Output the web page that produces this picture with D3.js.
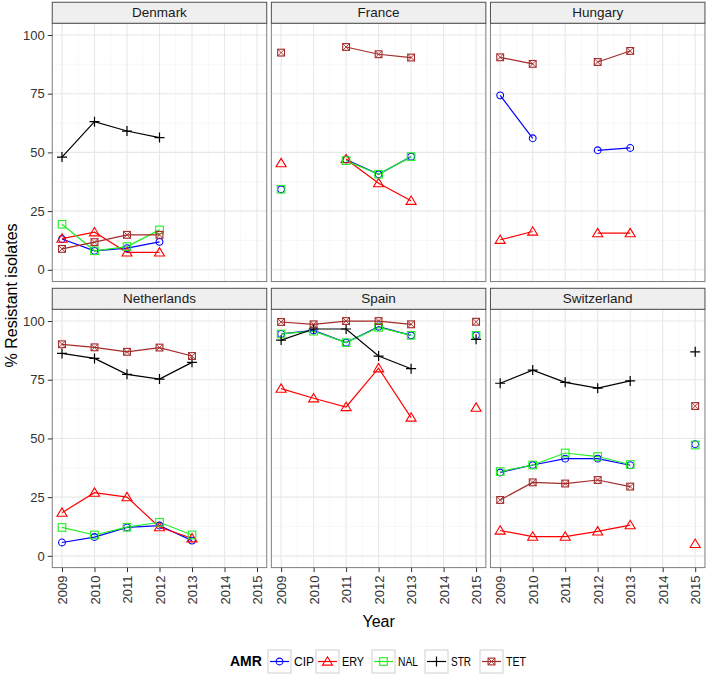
<!DOCTYPE html>
<html>
<head>
<meta charset="utf-8">
<script src="https://cdn.jsdelivr.net/npm/d3@7"></script>
<style>
  html, body { margin: 0; padding: 0; background: #fff; }
  svg { display: block; font-family: "Liberation Sans", Arial, Helvetica, sans-serif; }
</style>
</head>
<body>
<svg id="chart" width="709" height="678"></svg>
<script>
// ---------------- DATA ----------------
const years = [2009, 2010, 2011, 2012, 2013, 2014, 2015];
const yTicks = [0, 25, 50, 75, 100];
const countries = ["Denmark", "France", "Hungary", "Netherlands", "Spain", "Switzerland"];
const amrs = ["CIP", "ERY", "NAL", "STR", "TET"];
const amrColors = ["#0000FF", "#FF0000", "#22EE22", "#000000", "#A52A2A"];

// values per year 2009..2015 (null = missing)
const denmarkCIP = [13.1, 8.1, 9.2, 11.9, null, null, null];
const denmarkERY = [13.3, 16.0, 7.4, 7.4, null, null, null];
const denmarkNAL = [19.4, 8.1, 9.9, 17.0, null, null, null];
const denmarkSTR = [48.0, 63.1, 59.1, 56.3, null, null, null];
const denmarkTET = [8.9, 11.8, 14.9, 14.9, null, null, null];

const franceCIP = [34.3, null, 47.0, 40.7, 48.2, null, null];
const franceERY = [45.4, null, 47.1, 36.9, 29.4, null, null];
const franceNAL = [34.3, null, 46.5, 40.7, 48.2, null, null];
const franceSTR = [null, null, null, null, null, null, null];
const franceTET = [92.5, null, 94.9, 91.8, 90.4, null, null];

const hungaryCIP = [74.3, 56.0, null, 50.9, 51.9, null, null];
const hungaryERY = [12.8, 16.3, null, 15.6, 15.6, null, null];
const hungaryNAL = [null, null, null, null, null, null, null];
const hungarySTR = [null, null, null, null, null, null, null];
const hungaryTET = [90.5, 87.7, null, 88.5, 93.2, null, null];

const netherlandsCIP = [5.7, 8.0, 12.1, 12.9, 6.5, null, null];
const netherlandsERY = [18.4, 26.9, 25.0, 12.2, 7.5, null, null];
const netherlandsNAL = [12.1, 8.9, 12.2, 14.3, 8.9, null, null];
const netherlandsSTR = [86.2, 84.1, 77.3, 75.3, 82.4, null, null];
const netherlandsTET = [90.1, 88.8, 86.9, 88.7, 85.1, null, null];

const spainCIP = [94.5, 96.0, 90.8, 97.6, 93.9, null, 93.9];
const spainERY = [71.2, 67.1, 63.4, 79.9, 58.9, null, 63.1];
const spainNAL = [94.5, 95.7, 90.8, 97.3, 93.9, null, 93.9];
const spainSTR = [91.9, 96.6, 96.6, 85.1, 79.7, null, 92.2];
const spainTET = [99.6, 98.6, 100.0, 100.0, 98.6, null, 99.7];

const switzerlandCIP = [35.5, 38.7, 41.4, 41.4, 38.6, null, 47.5];
const switzerlandERY = [10.8, 8.2, 8.2, 10.4, 13.1, null, 5.1];
const switzerlandNAL = [35.9, 38.7, 43.8, 42.3, 38.9, null, 47.2];
const switzerlandSTR = [73.5, 79.1, 73.9, 71.4, 74.5, null, 86.9];
const switzerlandTET = [23.8, 31.3, 30.8, 32.3, 29.5, null, 63.8];

const table = {
  Denmark: [denmarkCIP, denmarkERY, denmarkNAL, denmarkSTR, denmarkTET],
  France: [franceCIP, franceERY, franceNAL, franceSTR, franceTET],
  Hungary: [hungaryCIP, hungaryERY, hungaryNAL, hungarySTR, hungaryTET],
  Netherlands: [netherlandsCIP, netherlandsERY, netherlandsNAL, netherlandsSTR, netherlandsTET],
  Spain: [spainCIP, spainERY, spainNAL, spainSTR, spainTET],
  Switzerland: [switzerlandCIP, switzerlandERY, switzerlandNAL, switzerlandSTR, switzerlandTET]
};

// ---------------- LAYOUT ----------------
const svg = d3.select("#chart");
const panelLeft = 52.25, panelW = 214.5, gapX = 4.6;
const panelTops = [23.25, 309.3];
const panelH = 258.3;
const stripH = 21;

const x = d3.scaleLinear().domain([2008.7, 2015.3]).range([0, panelW]);
const y = d3.scaleLinear().domain([-5, 105]).range([panelH, 0]);

const gridMajor = "#E8E8E8", gridMinor = "#F3F3F3";

function marker(g, shape, color) {
  const sw = 1.1;
  if (shape === "CIP") {
    g.append("circle").attr("r", 3.4).attr("fill", "none").attr("stroke", color).attr("stroke-width", sw);
  } else if (shape === "ERY") {
    const s = 4.8;
    g.append("path").attr("d", `M0,${-s} L${s*1.05},${s*0.75} L${-s*1.05},${s*0.75}Z`)
      .attr("fill", "none").attr("stroke", color).attr("stroke-width", sw);
  } else if (shape === "NAL") {
    g.append("rect").attr("x", -3.8).attr("y", -3.8).attr("width", 7.6).attr("height", 7.6)
      .attr("fill", "none").attr("stroke", color).attr("stroke-width", sw);
  } else if (shape === "STR") {
    g.append("path").attr("d", "M-5,0H5M0,-5V5").attr("stroke", color).attr("stroke-width", 1.2);
  } else if (shape === "TET") {
    g.append("rect").attr("x", -3.4).attr("y", -3.4).attr("width", 6.8).attr("height", 6.8)
      .attr("fill", "none").attr("stroke", color).attr("stroke-width", sw);
    g.append("path").attr("d", "M-3.4,-3.4L3.4,3.4M-3.4,3.4L3.4,-3.4")
      .attr("stroke", color).attr("stroke-width", 0.9);
  }
}

countries.forEach((c, i) => {
  const col = i % 3, row = Math.floor(i / 3);
  const px = panelLeft + col * (panelW + gapX);
  const py = panelTops[row];
  const g = svg.append("g").attr("transform", `translate(${px},${py})`);

  // strip
  svg.append("rect").attr("x", px).attr("y", py - stripH).attr("width", panelW).attr("height", stripH)
    .attr("fill", "#EFEFEF").attr("stroke", "#4D4D4D").attr("stroke-width", 1);
  svg.append("text").attr("x", px + panelW / 2).attr("y", py - stripH / 2 + 4.6)
    .attr("text-anchor", "middle").attr("font-size", 13.5).attr("fill", "#1A1A1A").text(c);

  // panel background
  g.append("rect").attr("width", panelW).attr("height", panelH).attr("fill", "#fff");

  // minor grid
  for (let k = 0; k < yTicks.length - 1; k++) {
    const v = (yTicks[k] + yTicks[k + 1]) / 2;
    g.append("line").attr("x1", 0).attr("x2", panelW).attr("y1", y(v)).attr("y2", y(v))
      .attr("stroke", gridMinor).attr("stroke-width", 0.6);
  }
  for (let k = 0; k < years.length - 1; k++) {
    const v = (years[k] + years[k + 1]) / 2;
    g.append("line").attr("y1", 0).attr("y2", panelH).attr("x1", x(v)).attr("x2", x(v))
      .attr("stroke", gridMinor).attr("stroke-width", 0.6);
  }
  // major grid
  yTicks.forEach(v => g.append("line").attr("x1", 0).attr("x2", panelW).attr("y1", y(v)).attr("y2", y(v))
    .attr("stroke", gridMajor).attr("stroke-width", 1.1));
  years.forEach(v => g.append("line").attr("y1", 0).attr("y2", panelH).attr("x1", x(v)).attr("x2", x(v))
    .attr("stroke", gridMajor).attr("stroke-width", 1.1));

  // lines
  const series = table[c];
  series.forEach((vals, s) => {
    const pts = years.map((yr, k) => ({ yr, v: vals[k] }));
    const line = d3.line().defined(d => d.v !== null).x(d => x(d.yr)).y(d => y(d.v));
    g.append("path").datum(pts).attr("d", line).attr("fill", "none")
      .attr("stroke", amrColors[s]).attr("stroke-width", 1.2);
  });
  // points
  series.forEach((vals, s) => {
    years.forEach((yr, k) => {
      if (vals[k] === null) return;
      const m = g.append("g").attr("transform", `translate(${x(yr)},${y(vals[k])})`);
      marker(m, amrs[s], amrColors[s]);
    });
  });

  // border
  g.append("rect").attr("width", panelW).attr("height", panelH).attr("fill", "none")
    .attr("stroke", "#7F7F7F").attr("stroke-width", 1);

  // y axis on left column
  if (col === 0) {
    const ya = svg.append("g").attr("transform", `translate(${px},${py})`)
      .call(d3.axisLeft(y).tickValues(yTicks).tickSize(4.5).tickPadding(3));
    ya.select(".domain").remove();
    ya.selectAll(".tick line").attr("stroke", "#333").attr("stroke-width", 1);
    ya.selectAll(".tick text").attr("font-size", 13).attr("fill", "#333")
      .attr("font-family", "Liberation Sans, Arial, sans-serif");
  }
  // x axis on bottom row
  if (row === 1) {
    const xa = svg.append("g").attr("transform", `translate(${px},${py + panelH})`)
      .call(d3.axisBottom(x).tickValues(years).tickFormat(d3.format("d")).tickSize(4.5));
    xa.select(".domain").remove();
    xa.selectAll(".tick line").attr("stroke", "#333").attr("stroke-width", 1);
    xa.selectAll(".tick text").attr("font-size", 13).attr("fill", "#333")
      .attr("font-family", "Liberation Sans, Arial, sans-serif")
      .attr("transform", "rotate(-90)").attr("text-anchor", "end")
      .attr("x", -8).attr("y", 0).attr("dy", "0.35em");
  }
});

// axis titles
svg.append("text").attr("x", panelLeft + (3 * panelW + 2 * gapX) / 2).attr("y", 627)
  .attr("text-anchor", "middle").attr("font-size", 16).attr("fill", "#000").text("Year");
svg.append("text").attr("transform", `translate(17,${(panelTops[0] + panelTops[1] + panelH) / 2}) rotate(-90)`)
  .attr("text-anchor", "middle").attr("font-size", 16).attr("fill", "#000").text("% Resistant isolates");

// legend
const legendY = 650;
svg.append("text").attr("x", 230).attr("y", legendY + 16).attr("font-size", 14).attr("font-weight", "bold")
  .attr("fill", "#000").text("AMR");
const keyX = [268, 316, 372, 425, 480];
amrs.forEach((a, s) => {
  const kg = svg.append("g").attr("transform", `translate(${keyX[s]},${legendY})`);
  kg.append("rect").attr("width", 23).attr("height", 23).attr("fill", "#fff")
    .attr("stroke", "#D0D0D0").attr("stroke-width", 1);
  kg.append("line").attr("x1", 2).attr("x2", 21).attr("y1", 11.5).attr("y2", 11.5)
    .attr("stroke", amrColors[s]).attr("stroke-width", 1.2);
  const m = kg.append("g").attr("transform", "translate(11.5,11.5)");
  marker(m, a, amrColors[s]);
  svg.append("text").attr("x", keyX[s] + 26).attr("y", legendY + 16).attr("font-size", 12)
    .attr("fill", "#000").attr("textLength", a === "ERY" ? 22 : 20).attr("lengthAdjust", "spacingAndGlyphs").text(a);
});
</script>
</body>
</html>
